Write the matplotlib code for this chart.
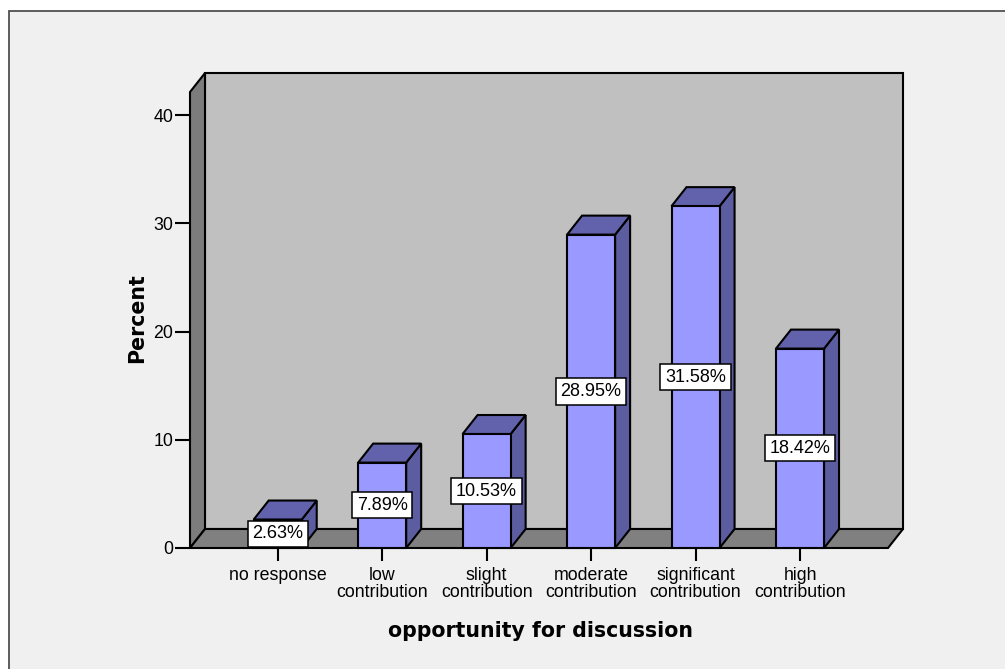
import matplotlib
matplotlib.use("Agg")
import matplotlib.pyplot as plt
from matplotlib.patches import Polygon, Rectangle

# Data
categories = ["no response", "low\ncontribution", "slight\ncontribution",
              "moderate\ncontribution", "significant\ncontribution", "high\ncontribution"]
percents = [2.63, 7.89, 10.53, 28.95, 31.58, 18.42]
y_ticks = [0, 10, 20, 30, 40]
x_title = "opportunity for discussion"
y_title = "Percent"

# Colours
FIG_BG = "#f0f0f0"
BACK_WALL = "#c0c0c0"
SIDE_WALL = "#7c7c7c"
FLOOR = "#808080"
BAR_FRONT = "#9999ff"
BAR_TOP = "#6262ac"
BAR_SIDE = "#5c5ca0"

W, H = 1005, 669
fig = plt.figure(figsize=(W / 100, H / 100), dpi=100, facecolor="white")

# framed chart area
fig.add_artist(Rectangle((9 / W, -0.2), 1.2, (H - 11) / H + 0.2,
                         transform=fig.transFigure, facecolor=FIG_BG,
                         edgecolor="#505050", lw=1.3, zorder=0))

# axes placed so the front plane spans the frame of the 3-D box
left_px, right_px, top_px, base_px = 190, 903, 73, 548
ax = fig.add_axes([left_px / W, (H - base_px) / H,
                   (right_px - left_px) / W, (base_px - top_px) / H])
ax.set_facecolor("none")
px_per_cat = 104.46
px_per_unit = 10.825
first_tick_px = 277.7
x0 = (left_px - first_tick_px) / px_per_cat
x1 = (right_px - first_tick_px) / px_per_cat
ymax = (base_px - top_px) / px_per_unit
ax.set_xlim(x0, x1)
ax.set_ylim(0, ymax)

dx = 15 / px_per_cat      # depth offset, horizontal
dy = 19 / px_per_unit     # depth offset, vertical
ytop = ymax - dy
lw = 1.5

def poly(pts, fc, z):
    ax.add_patch(Polygon(pts, closed=True, facecolor=fc, edgecolor="black",
                         lw=lw, joinstyle="miter", zorder=z, clip_on=False))

# back wall, left wall, floor
poly([(x0 + dx, dy), (x1, dy), (x1, ymax), (x0 + dx, ymax)], BACK_WALL, 1)
poly([(x0, 0), (x0 + dx, dy), (x0 + dx, ymax), (x0, ytop)], SIDE_WALL, 1.1)
poly([(x0, 0), (x1 - dx, 0), (x1, dy), (x0 + dx, dy)], FLOOR, 1.2)

# bars
bw = 0.46
for i, v in enumerate(percents):
    l, r = i - bw / 2, i + bw / 2
    z = 3 + i * 0.01
    poly([(r, 0), (r + dx, dy), (r + dx, v + dy), (r, v)], BAR_SIDE, z)
    poly([(l, v), (r, v), (r + dx, v + dy), (l + dx, v + dy)], BAR_TOP, z)
    poly([(l, 0), (r, 0), (r, v), (l, v)], BAR_FRONT, z)
    ax.text(i, v / 2, f"{v:.2f}%", ha="center", va="center",
            family="Liberation Sans", fontsize=13, color="black", zorder=10,
            bbox=dict(boxstyle="square,pad=0.26", facecolor="white",
                      edgecolor="black", lw=1.1))

# axes and ticks
for s in ax.spines.values():
    s.set_visible(False)
ax.set_yticks(y_ticks)
ax.set_yticklabels([str(t) for t in y_ticks], family="Liberation Sans", fontsize=12.8)
ax.set_xticks(range(len(categories)))
ax.set_xticklabels(categories, family="Liberation Sans", fontsize=12.8,
                   linespacing=0.95)
ax.tick_params(axis="y", length=11, width=1.5, pad=1, color="black")
ax.tick_params(axis="x", length=9, width=1.5, pad=5, color="black")

fig.text(137 / W, (H - 318) / H, y_title, rotation=90, ha="center", va="center",
         family="DejaVu Sans", fontweight="bold", fontsize=14.8)
fig.text(540 / W, (H - 631) / H, x_title, ha="center", va="center",
         family="DejaVu Sans", fontweight="bold", fontsize=14.8)

fig.savefig("out.png", dpi=100, facecolor="white")
